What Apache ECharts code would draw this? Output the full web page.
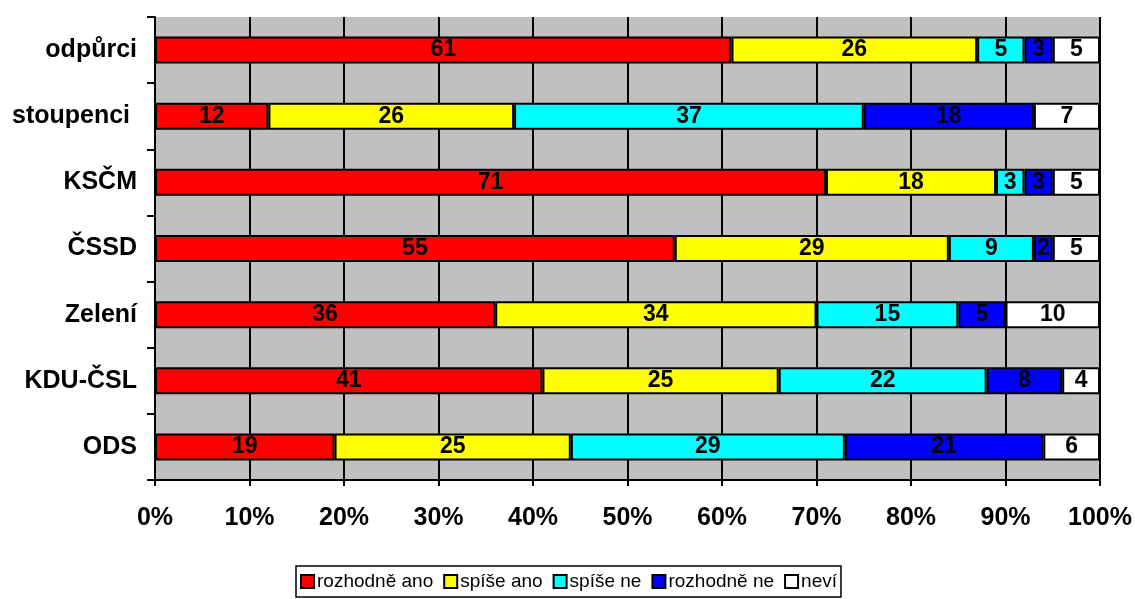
<!DOCTYPE html>
<html><head><meta charset="utf-8">
<script src="https://cdn.jsdelivr.net/npm/echarts@6/dist/echarts.min.js"></script>
<style>html,body{margin:0;padding:0;background:#fff}#c{width:1135px;height:599px}</style>
</head><body><div id="c"></div>
<script>
const categories = ['odpůrci','stoupenci ','KSČM','ČSSD','Zelení','KDU-ČSL','ODS'];
const rozhodneAno = [61,12,71,55,36,41,19];
const spiseAno    = [26,26,18,29,34,25,25];
const spiseNe     = [5,37,3,9,15,22,29];
const rozhodneNe  = [3,18,3,2,5,8,21];
const nevi        = [5,7,5,5,10,4,6];
const seriesNames = ['rozhodně ano','spíše ano','spíše ne','rozhodně ne','neví'];
const colors = ['#FF0000','#FFFF00','#00FFFF','#0000FF','#FFFFFF'];
const xTicks = [0,10,20,30,40,50,60,70,80,90,100];

const FONT = '"Liberation Sans", Arial, sans-serif';
const chart = echarts.init(document.getElementById('c'));
const data = [rozhodneAno, spiseAno, spiseNe, rozhodneNe, nevi];
chart.setOption({
  animation: false,
  textStyle: {fontFamily: FONT},
  grid: {left: 155, right: 34, top: 17, bottom: 119, show: true, backgroundColor: '#C0C0C0', borderWidth: 0},
  legend: {
    bottom: 2, left: 296,
    data: seriesNames,
    itemWidth: 13, itemHeight: 13, itemGap: 10,
    borderColor: '#000', borderWidth: 1.5, borderRadius: 0,
    padding: [6, 4, 6, 4],
    icon: 'rect',
    textStyle: {fontSize: 19, color: '#000', fontFamily: FONT, padding: [0,0,0,-2]},
    itemStyle: {borderColor: '#000', borderWidth: 2}
  },
  xAxis: {
    type: 'value', min: 0, max: 100, interval: 10,
    axisLine: {show: true, lineStyle: {color: '#000', width: 2}},
    axisTick: {show: true, length: 6, lineStyle: {color: '#000', width: 2}},
    axisLabel: {formatter: v => xTicks.includes(v) ? v + '%' : '', fontSize: 25, fontWeight: 'bold', color: '#000', margin: 26},
    splitLine: {show: true, lineStyle: {color: '#000', width: 2}}
  },
  yAxis: {
    type: 'category', data: categories, inverse: true,
    axisLine: {show: true, lineStyle: {color: '#000', width: 2}},
    axisTick: {show: true, length: 8, lineStyle: {color: '#000', width: 2}},
    axisLabel: {fontSize: 25, fontWeight: 'bold', color: '#000', margin: 18},
    splitLine: {show: false}
  },
  series: seriesNames.map((n, i) => ({
    name: n, type: 'bar', stack: 'total', barWidth: 27,
    data: data[i],
    itemStyle: {color: colors[i], borderColor: '#000', borderWidth: 2},
    label: {show: true, position: 'inside', fontSize: 23, fontWeight: 'bold', color: '#000', fontFamily: FONT}
  }))
});
</script></body></html>
